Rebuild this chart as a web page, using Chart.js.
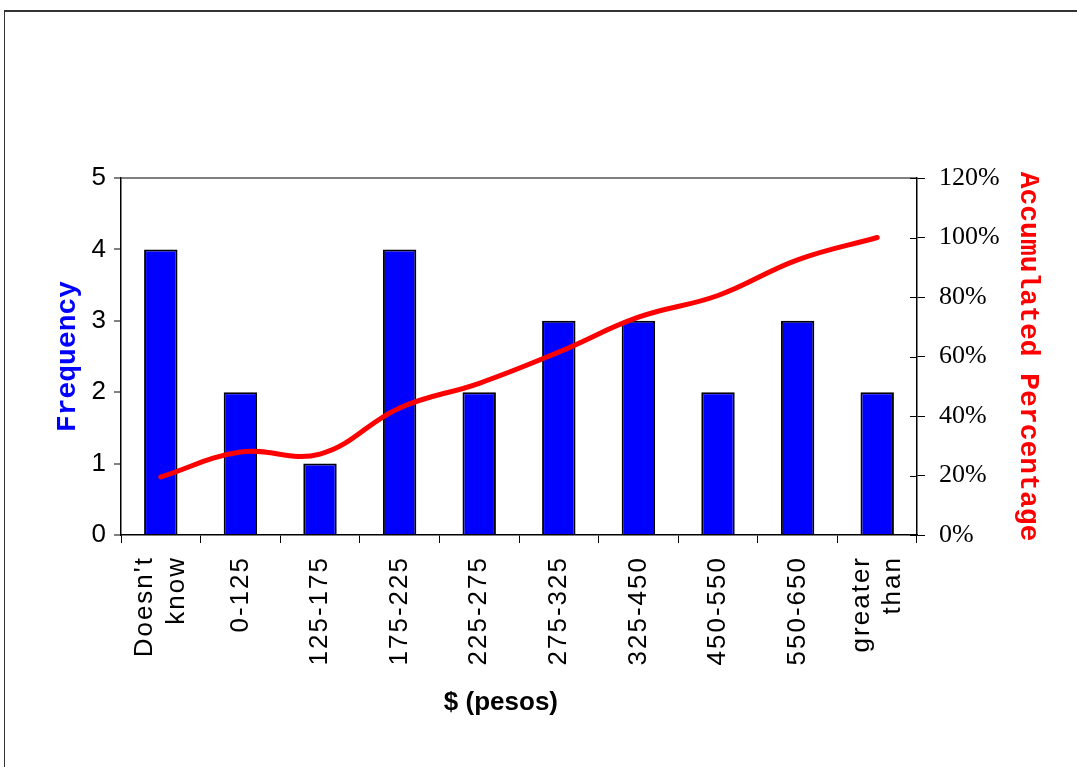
<!DOCTYPE html>
<html lang="en">
<head>
<meta charset="UTF-8">
<title>Frequency by amount</title>
<script src="https://cdn.jsdelivr.net/npm/chart.js@4.4.0/dist/chart.umd.min.js"></script>
<style>
  html, body { margin: 0; padding: 0; background: #fff; }
  #frame { position: absolute; left: 4px; top: 10px; width: 1100px; height: 800px;
           border-top: 2px solid #333; border-left: 1px solid #333; }
  #chart { position: absolute; left: 0; top: 0; }
</style>
</head>
<body>
<div id="frame"></div>
<canvas id="chart" width="1077" height="767"></canvas>
<script>
var categories = [["Doesn't", "know"], "0-125", "125-175", "175-225", "225-275",
                  "275-325", "325-450", "450-550", "550-650", ["greater", "than"]];
var frequency = [4, 2, 1, 4, 2, 3, 3, 2, 3, 2];
var accumulated = [19.5, 27.9, 27.2, 42.7, 51, 61.5, 73.2, 80.5, 92.5, 100];

var sans = '"Liberation Sans", Arial, sans-serif';
var serif = '"Liberation Serif", "Times New Roman", serif';
var mono = '"Liberation Mono", "Courier New", monospace';

// category labels: spread the letters out and keep two-line labels centred on their tick
var spacedLabels = {
  id: 'spacedLabels',
  afterUpdate: function(chart) {
    var x = chart.scales.x;
    if (!x || x._spaced) return;
    var draw = x.drawLabels;
    x.drawLabels = function(area) {
      var ctx = this.ctx;
      this.getLabelItems(area).forEach(function(it) {
        if (Array.isArray(it.label) && !it._centred) {
          it.options.translation[0] -= (it.label.length - 1) * it.font.lineHeight / 2;
          it._centred = true;
        }
      });
      ctx.save();
      ctx.letterSpacing = '2px';
      draw.call(this, area);
      ctx.restore();
    };
    x._spaced = true;
  }
};

// right axis tick marks cross the axis line
var crossTicks = {
  id: 'crossTicks',
  afterDraw: function(chart) {
    var s = chart.scales.y1, ctx = chart.ctx;
    ctx.save();
    ctx.strokeStyle = '#000';
    ctx.lineWidth = 1;
    ctx.beginPath();
    s.ticks.forEach(function(t, i) {
      var y = Math.round(s.getPixelForTick(i)) + 0.5;
      ctx.moveTo(s.left - 7, y);
      ctx.lineTo(s.left, y);
    });
    ctx.stroke();
    ctx.restore();
  }
};

new Chart(document.getElementById('chart'), {
  data: {
    labels: categories,
    datasets: [
      {
        type: 'line',
        label: 'Accumulated Percentage',
        data: accumulated,
        yAxisID: 'y1',
        borderColor: '#ff0000',
        borderWidth: 5,
        borderCapStyle: 'round',
        pointRadius: 0,
        tension: 0.4,
        order: 1
      },
      {
        type: 'bar',
        label: 'Frequency',
        data: frequency,
        yAxisID: 'y',
        backgroundColor: '#0000ff',
        borderColor: '#000000',
        borderWidth: 2,
        barPercentage: 0.42,
        categoryPercentage: 1,
        order: 2
      }
    ]
  },
  options: {
    responsive: false,
    animation: false,
    layout: { padding: { top: 178 } },
    plugins: { legend: { display: false }, tooltip: { enabled: false } },
    scales: {
      x: {
        offset: true,
        afterFit: function(s) { s.height = 232; },
        grid: { drawOnChartArea: false, offset: true, tickLength: 8, color: '#000', tickWidth: 1 },
        border: { color: '#000', width: 1.5 },
        ticks: {
          autoSkip: false, minRotation: 90, maxRotation: 90, padding: 13, color: '#000',
          font: { family: sans, size: 26, lineHeight: 1.2 }
        },
        title: {
          display: true, text: '$ (pesos)\u00a0\u00a0\u00a0\u00a0\u00a0', color: '#000',
          font: { family: sans, size: 26, weight: 'bold', lineHeight: 1.2 },
          padding: { top: 0, bottom: 49 }
        }
      },
      y: {
        position: 'left',
        min: 0, max: 5,
        afterFit: function(s) { s.width = 121; },
        ticks: { stepSize: 1, padding: 8, color: '#000', font: { family: sans, size: 26 } },
        grid: {
          color: function(c) { return c.tick.value === 5 ? '#808080' : 'rgba(0,0,0,0)'; },
          lineWidth: 2, tickColor: '#000', tickWidth: 1, tickLength: 7
        },
        border: { color: '#000', width: 1.5 },
        title: {
          display: true, text: 'Frequency', color: '#0000ff',
          font: { family: mono, size: 28, weight: 'bold', lineHeight: 1.2 },
          padding: { top: 51, bottom: 0 }
        }
      },
      y1: {
        position: 'right',
        min: 0, max: 120,
        afterFit: function(s) { s.width = 160; },
        ticks: {
          stepSize: 20, padding: 14, color: '#000',
          callback: function(v) { return v + '%'; },
          font: { family: serif, size: 26 }
        },
        grid: { drawOnChartArea: false, tickColor: '#000', tickWidth: 1, tickLength: 8 },
        border: { color: '#000', width: 1.5 },
        title: {
          display: true, text: 'Accumulated Percentage', color: '#ff0000',
          font: { family: mono, size: 28, weight: 'bold', lineHeight: 1.2 },
          padding: { top: 32, bottom: 0 }
        }
      }
    }
  },
  plugins: [spacedLabels, crossTicks]
});
</script>
</body>
</html>
